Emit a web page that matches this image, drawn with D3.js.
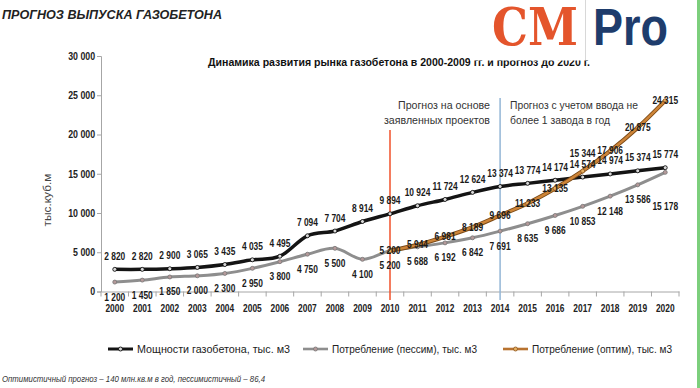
<!DOCTYPE html>
<html>
<head>
<meta charset="utf-8">
<script src="https://cdn.jsdelivr.net/npm/d3@7"></script>
<style>
  body { margin: 0; background: #fff; }
  svg { display: block; }
</style>
</head>
<body>
<script>
'use strict';

// data
const years = ['2000', '2001', '2002', '2003', '2004', '2005', '2006', '2007', '2008', '2009', '2010',
  '2011', '2012', '2013', '2014', '2015', '2016', '2017', '2018', '2019', '2020'];
const capacity = [2820, 2820, 2900, 3065, 3435, 4035, 4495, 7094, 7704, 8914, 9894,
  10924, 11724, 12624, 13374, 13774, 14174, 14574, 14974, 15374, 15774];
const pessimistic = [1200, 1450, 1850, 2000, 2300, 2950, 3800, 4750, 5500, 4100, 5200,
  5688, 6192, 6842, 7691, 8635, 9686, 10853, 12148, 13586, 15178];
const optimistic = [null, null, null, null, null, null, null, null, null, null, 5200,
  5944, 6981, 8189, 9696, 11233, 13135, 15344, 17906, 20875, 24315];
const yTicks = [0, 5000, 10000, 15000, 20000, 25000, 30000];
const seriesNames = ['Мощности газобетона, тыс. м3', 'Потребление (пессим), тыс. м3', 'Потребление (оптим), тыс. м3'];

const FONT = "'Liberation Sans', Arial, sans-serif";
const SQUEEZE = 0.84;   // calibri-like narrow look
const fmt = d3.formatLocale({ decimal: ',', thousands: ' ', grouping: [3], currency: ['', ''] }).format(',d');

let svg = d3.select('body').append('svg').attr('width', 700).attr('height', 388)
  .style('font-family', FONT);

let x = d3.scaleBand().domain(years).range([101, 679]);
let y = d3.scaleLinear().domain([0, 30000]).range([291.5, 56]);
let cx = d => x(d) + x.bandwidth() / 2;

// text with fixed width, like the squeezed office fonts
function fitText(parent, str, px, py, len, anchor) {
  return parent.append('text').attr('x', px).attr('y', py)
    .attr('text-anchor', anchor || 'start')
    .attr('textLength', len).attr('lengthAdjust', 'spacingAndGlyphs')
    .text(str);
}

// header
fitText(svg, 'ПРОГНОЗ ВЫПУСКА ГАЗОБЕТОНА', 2, 19, 220)
  .style('font-weight', 'bold').style('font-style', 'italic').style('font-size', '13px').style('fill', '#222');

fitText(svg, 'Динамика развития рынка газобетона в 2000-2009  гг. и прогноз до 2020 г.', 208, 66, 382)
  .style('font-weight', 'bold').style('font-size', '11.5px').style('fill', '#111');

// logo box hides the top of the title
svg.append('rect').attr('x', 470).attr('y', 0).attr('width', 230).attr('height', 60.5).style('fill', '#fff');
fitText(svg, 'CM', 492, 45, 86)
  .style('font-family', "'DejaVu Serif', serif").style('font-weight', 'bold')
  .style('font-size', '53px').style('fill', '#e4552c');
svg.append('line').attr('x1', 585.5).attr('x2', 585.5).attr('y1', 0).attr('y2', 60)
  .style('stroke', '#d8d8d8').style('stroke-width', 1);
fitText(svg, 'Pro', 593, 45, 75)
  .style('font-weight', 'bold').style('font-size', '51px').style('fill', '#1e3c6c');

// axes
let yAxis = d3.axisLeft(y).tickValues(yTicks).tickSize(4).tickPadding(3).tickFormat(fmt);
let gy = svg.append('g').attr('transform', `translate(${x.range()[0]},0)`).call(yAxis);
gy.selectAll('text').attr('font-family', null).style('font-weight', 'bold').style('font-size', '10.5px')
  .style('fill', '#222').attr('transform', `scale(${SQUEEZE},1)`);

let xAxis = d3.axisBottom(x).tickSize(0).tickPadding(13);
let gx = svg.append('g').attr('transform', `translate(0,${y(0)})`).call(xAxis);
gx.selectAll('text').attr('font-family', null).style('font-weight', 'bold').style('font-size', '10px')
  .style('fill', '#222').attr('transform', `scale(${SQUEEZE},1)`);
gx.selectAll('.tick-between').data(years.map(d => x(d)).concat([x.range()[1]]))
  .enter().append('line').attr('x1', d => d).attr('x2', d => d).attr('y1', 0).attr('y2', 5)
  .style('stroke', '#a6a6a6');
gx.selectAll('.domain').style('stroke', '#a6a6a6');
gy.selectAll('.domain, .tick line').style('stroke', '#a6a6a6');
svg.selectAll('.tick text').style('font-family', FONT);

let yTitle = svg.append('g').attr('transform', 'translate(51,200) rotate(-90)');
fitText(yTitle, 'тыс.куб.м', 0, 0, 53, 'middle').style('font-size', '11px').style('fill', '#444');

// forecast dividers and notes
svg.append('line').attr('x1', cx('2010')).attr('x2', cx('2010')).attr('y1', 130).attr('y2', 300)
  .style('stroke', '#f0502a').style('stroke-width', 1.5);
svg.append('line').attr('x1', cx('2014')).attr('x2', cx('2014')).attr('y1', 98).attr('y2', 300)
  .style('stroke', '#93b6d6').style('stroke-width', 1.5);

let notes = svg.append('g').style('font-size', '11.5px').style('fill', '#333');
fitText(notes, 'Прогноз на основе', 490, 109, 92, 'end');
fitText(notes, 'заявленных проектов', 490, 124, 106, 'end');
fitText(notes, 'Прогноз с учетом ввода не', 510, 109, 128);
fitText(notes, 'более 1 завода в год', 510, 124, 100);

// lines
let line = d3.line().defined(d => d.v != null).x(d => cx(d.year)).y(d => y(d.v))
  .curve(d3.curveCatmullRom.alpha(0));
let rows = vals => years.map((year, i) => ({ year: year, v: vals[i] }));

let series = [
  { vals: capacity, under: '#000', color: '#141414', width: 3.5, dot: '#d8d8d8', dotStroke: '#000', labelDy: -13 },
  { vals: pessimistic, under: '#777', color: '#8e8e8e', width: 3, dot: '#b59a9a', dotStroke: '#777', labelDy: 15 },
  { vals: optimistic, under: '#7c4a16', color: '#cd8438', width: 2.4, dot: '#e8b060', dotStroke: '#8a5520', labelDy: 0 }
];
// a few labels were moved by hand in the original
let labelShift = { 1: { '2020': 19 }, 2: { '2017': -18 } };

series.forEach(function (s, si) {
  let data = rows(s.vals);
  let g = svg.append('g');
  if (si === 2) {
    g.append('path').attr('d', line(data)).style('fill', 'none').style('stroke', s.under).style('stroke-width', 4.2);
  }
  g.append('path').attr('d', line(data)).style('fill', 'none').style('stroke', s.color)
    .style('stroke-width', s.width).style('stroke-linecap', 'round');
  g.selectAll('circle').data(data.filter(d => d.v != null)).enter().append('circle')
    .attr('cx', d => cx(d.year)).attr('cy', d => y(d.v)).attr('r', 2)
    .style('fill', s.dot).style('stroke', s.dotStroke).style('stroke-width', 0.8);
});

series.forEach(function (s, si) {
  let data = rows(s.vals).filter(d => d.v != null);
  svg.append('g').selectAll('text').data(data).enter().append('text')
    .attr('transform', d => `translate(${cx(d.year)},${y(d.v) + s.labelDy + ((labelShift[si] || {})[d.year] || 0)}) scale(${SQUEEZE},1)`)
    .attr('dy', '0.35em').attr('text-anchor', 'middle')
    .style('font-weight', 'bold').style('font-size', '10px').style('fill', '#1a1a1a')
    .text(d => fmt(d.v));
});

// legend
let legendX = [108, 303, 503];
let legendLen = [153, 145, 140];
let legend = svg.append('g').attr('transform', 'translate(0,349)');
series.forEach(function (s, si) {
  let lg = legend.append('g').attr('transform', `translate(${legendX[si]},0)`);
  lg.append('line').attr('x1', 0).attr('x2', 25).attr('y1', 0).attr('y2', 0)
    .style('stroke', si === 2 ? '#b87330' : s.color).style('stroke-width', si === 0 ? 3 : 2.6);
  lg.append('circle').attr('cx', 12.5).attr('cy', 0).attr('r', 2)
    .style('fill', s.dot).style('stroke', s.dotStroke).style('stroke-width', 0.8);
  fitText(lg, seriesNames[si], 29, 4, legendLen[si])
    .style('font-size', '11px').style('fill', '#222');
});

fitText(svg, 'Оптимистичный прогноз – 140 млн.кв.м в год, пессимистичный – 86,4', 2, 382, 263)
  .style('font-style', 'italic').style('font-size', '9.5px').style('fill', '#333');

// green frame edge on the right
svg.append('rect').attr('x', 697).attr('y', 0).attr('width', 3).attr('height', 388).style('fill', '#7ccf7c');
</script>
</body>
</html>
